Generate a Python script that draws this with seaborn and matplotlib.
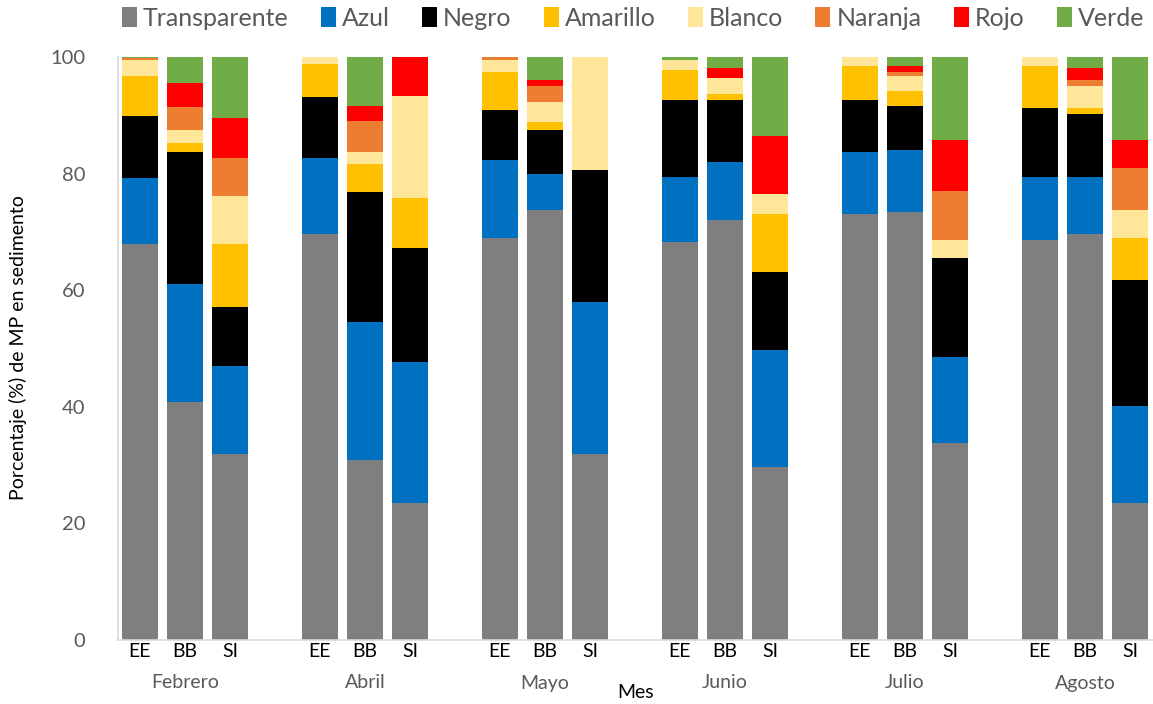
import numpy as np
import pandas as pd
import matplotlib
matplotlib.use("Agg")
import matplotlib.pyplot as plt
import matplotlib.transforms as mtransforms
from matplotlib.patches import Patch
import seaborn as sns

# Months and sampling sites
meses = ["Febrero", "Abril", "Mayo", "Junio", "Julio", "Agosto"]
sitios = ["EE", "BB", "SI"]

# Percentage of microplastics by colour (order: month x site)
transparente = [68.0, 40.8, 31.9, 69.7, 30.9, 23.5, 68.9, 73.7, 31.9,
                68.2, 72.0, 29.7, 73.0, 73.4, 33.8, 68.6, 69.6, 23.5]
azul = [11.2, 20.3, 15.1, 12.9, 23.6, 24.2, 13.4, 6.2, 26.0,
        11.3, 10.0, 20.0, 10.7, 10.6, 14.7, 10.9, 9.9, 16.6]
negro = [10.7, 22.6, 10.2, 10.5, 22.3, 19.5, 8.6, 7.5, 22.7,
         13.1, 10.6, 13.4, 8.9, 7.6, 17.0, 11.8, 10.7, 21.6]
amarillo = [6.8, 1.6, 10.7, 5.7, 4.8, 8.6, 6.5, 1.5, 0.0,
            5.2, 1.1, 10.0, 5.9, 2.5, 0.0, 7.2, 1.1, 7.3]
blanco = [2.8, 2.1, 8.3, 1.2, 2.1, 17.5, 2.1, 3.4, 19.4,
          1.6, 2.7, 3.4, 1.5, 2.6, 3.1, 1.5, 3.7, 4.7]
naranja = [0.3, 4.1, 6.4, 0.0, 5.4, 0.0, 0.5, 2.7, 0.0,
           0.0, 0.0, 0.0, 0.0, 0.7, 8.5, 0.0, 1.0, 7.2]
rojo = [0.0, 4.0, 6.9, 0.0, 2.5, 6.7, 0.0, 1.1, 0.0,
        0.0, 1.7, 9.9, 0.0, 1.1, 8.7, 0.0, 2.1, 4.9]
verde = [0.2, 4.5, 10.5, 0.0, 8.4, 0.0, 0.0, 3.9, 0.0,
         0.6, 1.9, 13.6, 0.0, 1.5, 14.2, 0.0, 1.9, 14.2]

colores = ["Transparente", "Azul", "Negro", "Amarillo", "Blanco", "Naranja", "Rojo", "Verde"]
paleta = ["#7f7f7f", "#0070c0", "#000000", "#ffc000", "#ffe699", "#ed7d31", "#ff0000", "#70ad47"]
series = [transparente, azul, negro, amarillo, blanco, naranja, rojo, verde]

# Bar slots: three bars per month, one empty slot between months
pos = [4 * m + s for m in range(len(meses)) for s in range(len(sitios))]

df = pd.DataFrame({"pos": pos})
for nombre, vals in zip(colores, series):
    df[nombre] = vals
cum = df[colores].cumsum(axis=1)

sns.set_theme(style="white")
plt.rcParams["font.family"] = ["Lato", "DejaVu Sans"]

fig = plt.figure(figsize=(11.53, 7.04), dpi=100)
ax = fig.add_axes([117.5 / 1153, 1 - 640 / 704, 1035 / 1153, 583 / 704])

# Stacked bars: draw cumulative totals from the top layer down
for nombre, color in reversed(list(zip(colores, paleta))):
    sns.barplot(x=df["pos"], y=cum[nombre], native_scale=True, color=color,
                width=0.8, errorbar=None, linewidth=0, saturation=1, ax=ax)

ax.set_xlim(-0.5, 22.5)
ax.set_ylim(0, 100)
ax.set_yticks(range(0, 101, 20))
ax.tick_params(axis="y", length=0, pad=23, labelsize=14.5, labelcolor="#595959")
ax.set_xticks(pos)
ax.set_xticklabels([s for _ in meses for s in sitios])
ax.tick_params(axis="x", length=0, pad=2, labelsize=14, labelcolor="black")

for side in ["top", "right"]:
    ax.spines[side].set_visible(False)
for side in ["left", "bottom"]:
    ax.spines[side].set_color("#d9d9d9")
    ax.spines[side].set_linewidth(1.2)

# Month labels under each group
trans = mtransforms.blended_transform_factory(ax.transData, ax.transAxes)
for m, mes in enumerate(meses):
    ax.text(4 * m + 1, -43 / 583, mes, transform=trans, ha="center", va="center",
            fontsize=14, color="#595959")

ax.set_xlabel("")
ax.set_ylabel("")
fig.text(636 / 1153, 1 - 692 / 704, "Mes", ha="center", va="center", fontsize=14, color="black")
fig.text(18 / 1153, 1 - 348 / 704, "Porcentaje (%) de MP en sedimento", rotation=90,
         ha="center", va="center", fontsize=14, color="black")

handles = [Patch(facecolor=c, edgecolor="none") for c in paleta]
fig.legend(handles, colores, loc="center", bbox_to_anchor=(633 / 1153, 1 - 18 / 704), ncol=8,
           frameon=False, fontsize=18, handlelength=0.6, handleheight=0.9,
           handletextpad=0.25, columnspacing=1.28, labelcolor="#595959")

fig.savefig("out.png", dpi=100)
